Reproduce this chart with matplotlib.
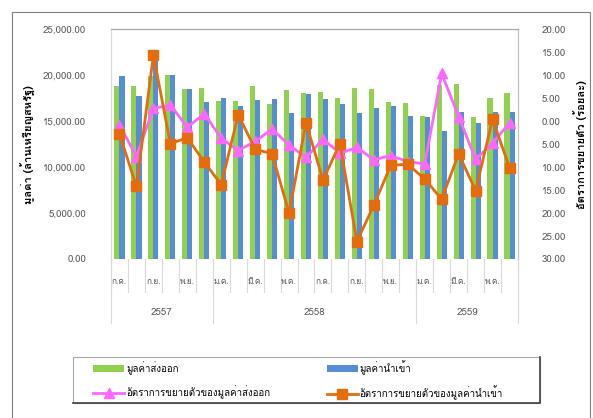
import numpy as np
import matplotlib
matplotlib.use("Agg")
import matplotlib.pyplot as plt
from matplotlib.ticker import FuncFormatter, MultipleLocator

"""DATA"""
months = ["ก.ค.", "", "ก.ย.", "", "พ.ย.", "",
          "ม.ค.", "", "มี.ค.", "", "พ.ค.", "", "ก.ค.", "", "ก.ย.", "", "พ.ย.", "",
          "ม.ค.", "", "มี.ค.", "", "พ.ค.", ""]
years = ["2557", "2558", "2559"]
year_len = [6, 12, 6]

export_val = [18800, 18800, 19900, 20000, 18500, 18650, 17150, 17150,
              18800, 16850, 18370, 18120, 18230, 17540, 18660, 18520,
              17140, 17000, 15580, 18900, 19100, 15470, 17540, 18120]
import_val = [19900, 17700, 21600, 20000, 18500, 17140, 17540, 16700,
              17280, 17390, 15870, 17930, 17390, 16850, 15870, 16410,
              16700, 15580, 15470, 13900, 16010, 14750, 16010, 16010]
export_growth = [-0.8, -7.7, 2.8, 3.5, -1.3, 1.6, -3.7, -6.4,
                 -4.4, -1.7, -5.2, -7.9, -3.9, -7.0, -5.7, -8.4,
                 -7.5, -8.8, -9.3, 10.4, 1.0, -8.3, -4.8, -0.4]
import_growth = [-2.8, -14.2, 14.4, -4.9, -3.6, -8.9, -13.8, 1.4,
                 -6.1, -7.1, -20.0, -0.3, -12.8, -4.9, -26.2, -18.3,
                 -9.6, -9.4, -12.6, -17.0, -7.1, -15.1, 0.4, -10.1]

green = "#92D050"
blue = "#558ED5"
pink = "#FF66FF"
orange = "#E46C0A"
grey = "#595959"

plt.rcParams['font.family'] = ['Loma', 'DejaVu Sans']

fig = plt.figure(figsize=(5.93, 4.18), dpi=100)
ax = fig.add_axes([0.1872, 0.3804, 0.6863, 0.5495])
ax2 = ax.twinx()

x = np.arange(len(export_val))
ax.bar(x - 0.15, export_val, width=0.3, color=green, label="มูลค่าส่งออก")
ax.bar(x + 0.15, import_val, width=0.3, color=blue, label="มูลค่านำเข้า")
ax2.plot(x, export_growth, color=pink, lw=2, marker="^", ms=7,
         label="อัตราการขยายตัวของมูลค่าส่งออก")
ax2.plot(x, import_growth, color=orange, lw=2, marker="s", ms=7,
         label="อัตราการขยายตัวของมูลค่านำเข้า")

ax.set_xlim(-0.5, len(x) - 0.5)
ax.set_ylim(0, 25000)
ax2.set_ylim(-30, 20)
ax.yaxis.set_major_locator(MultipleLocator(5000))
ax2.yaxis.set_major_locator(MultipleLocator(5))
ax.yaxis.set_major_formatter(FuncFormatter(lambda v, p: "{:,.2f}".format(v)))
ax2.yaxis.set_major_formatter(FuncFormatter(lambda v, p: "{:.2f}".format(abs(v))))
ax.tick_params(axis="y", length=0, pad=18, labelsize=7, labelcolor=grey)
ax2.tick_params(axis="y", length=0, pad=17, labelsize=7, labelcolor=grey)
ax.set_xticks([])

for a in (ax, ax2):
    a.spines["bottom"].set_visible(False)
    a.spines["left"].set_color("#D9D9D9")
    a.spines["right"].set_color("#BFBFBF")
    a.spines["top"].set_color("#A6A6A6")

# category axis: month and year levels
trans = ax.get_xaxis_transform()
for i in range(len(x) + 1):
    ax.plot([i - 0.5, i - 0.5], [0, -0.1437], color="#D9D9D9", lw=0.8,
            transform=trans, clip_on=False)
for i, m in enumerate(months):
    ax.text(i, -0.10, m, transform=trans, ha="center", va="center",
            fontsize=6, color=grey)
start = -0.5
for yr, n in zip(years, year_len):
    ax.plot([start, start], [0, -0.279], color="#D9D9D9", lw=0.8,
            transform=trans, clip_on=False)
    ax.text(start + n / 2, -0.231, yr, transform=trans, ha="center",
            va="center", fontsize=7, color=grey)
    start += n
ax.plot([start, start], [0, -0.279], color="#D9D9D9", lw=0.8,
        transform=trans, clip_on=False)

ax.set_ylabel("มูลค่า (ล้านเหรียญสหรัฐ)", fontsize=8, fontweight="bold")
ax.yaxis.set_label_coords(-0.184, 0.5)
ax2.set_ylabel("อัตราการขยายตัว (ร้อยละ)", fontsize=8, fontweight="bold",
               rotation=90)
ax2.yaxis.set_label_coords(1.135, 0.5)

# legend box (with darker bottom/right edge) and entries
fig.patches.append(plt.Rectangle((73 / 593, 1 - 403 / 418), 467 / 593, 46 / 418,
                                 facecolor="white", edgecolor="#A6A6A6", lw=0.8,
                                 transform=fig.transFigure))
fig.lines.append(plt.Line2D([73 / 593, 540 / 593, 540 / 593],
                            [1 - 403 / 418, 1 - 403 / 418, 1 - 357 / 418],
                            color="#404040", lw=1.2, transform=fig.transFigure))
h1, l1 = ax.get_legend_handles_labels()
h2, l2 = ax2.get_legend_handles_labels()
fig.legend([h1[0], h2[0], h1[1], h2[1]], [l1[0], l2[0], l1[1], l2[1]],
           ncol=2, loc="upper left", bbox_to_anchor=(93 / 593, 1 - 360 / 418),
           borderpad=0, borderaxespad=0, fontsize=7, frameon=False,
           handlelength=3.2, handletextpad=0.2, labelspacing=1.1,
           columnspacing=5.8)

# outer chart border
fig.patches.append(plt.Rectangle((0.0202, -0.1), 0.975, 1.0713, fill=False,
                                 edgecolor="#808080", lw=0.8,
                                 transform=fig.transFigure))

plt.savefig("out.png", dpi=100)
